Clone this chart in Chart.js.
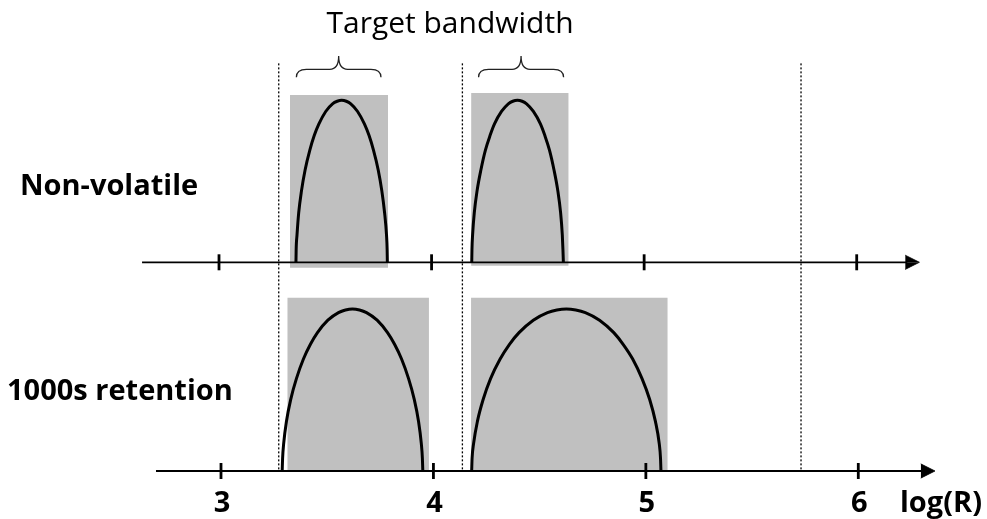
<!DOCTYPE html>
<html>
<head>
<meta charset="utf-8">
<script src="https://cdn.jsdelivr.net/npm/chart.js@4.4.1/dist/chart.umd.min.js"></script>
<style>
  html, body { margin: 0; padding: 0; background: #fff; }
  canvas { display: block; }
</style>
</head>
<body>
<canvas id="c" width="987" height="519"></canvas>
<script>
// log(R) ticks shared by both resistance axes
const tickValues = [3, 4, 5, 6];
const tickLabels = ['3', '4', '5', '6'];
const axisTitle = 'log(R)';
const rowLabels = ['Non-volatile', '1000s retention'];
const headerLabel = 'Target bandwidth';

// normalised distribution height at each sampled log(R) point (same profile for every state)
const stateProfile = [0, 0.079, 0.169, 0.306, 0.441, 0.570, 0.691, 0.782, 0.854, 0.931, 0.978, 0.994, 1,
                      0.994, 0.978, 0.931, 0.854, 0.782, 0.691, 0.570, 0.441, 0.306, 0.169, 0.079, 0];

// non-volatile row: log(R) sample points of the two resistance states
const nvLowState  = [3.362, 3.363, 3.367, 3.375, 3.388, 3.405, 3.427, 3.448, 3.470, 3.502, 3.534, 3.556, 3.577,
                     3.599, 3.620, 3.652, 3.684, 3.706, 3.727, 3.749, 3.766, 3.779, 3.788, 3.791, 3.792];
const nvHighState = [4.189, 4.190, 4.193, 4.201, 4.214, 4.232, 4.253, 4.275, 4.296, 4.329, 4.361, 4.382, 4.404,
                     4.426, 4.447, 4.479, 4.512, 4.533, 4.555, 4.576, 4.594, 4.607, 4.615, 4.618, 4.620];
// 1000s retention row: the same states after drift
const retLowState  = [3.288, 3.290, 3.295, 3.308, 3.328, 3.355, 3.388, 3.421, 3.454, 3.503, 3.553, 3.586, 3.619,
                      3.652, 3.685, 3.735, 3.784, 3.817, 3.850, 3.883, 3.910, 3.930, 3.943, 3.948, 3.950];
const retHighState = [4.180, 4.182, 4.189, 4.207, 4.234, 4.269, 4.314, 4.358, 4.403, 4.470, 4.537, 4.581, 4.626,
                      4.670, 4.715, 4.782, 4.849, 4.893, 4.938, 4.982, 5.018, 5.045, 5.063, 5.069, 5.071];

// shaded spread windows: log(R) extent and height in profile units
const nvWindowFrom  = [3.334, 4.186];
const nvWindowTo    = [3.795, 4.645];
const nvWindowTop   = [1.033, 1.045];
const nvWindowBase  = [-0.033, -0.021];
const retWindowFrom = [3.312, 4.177];
const retWindowTo   = [3.979, 5.103];
const retWindowTop  = [1.07, 1.07];
const retWindowBase = [-0.006, -0.006];

// read thresholds (dotted verticals)
const thresholds = [3.281, 4.145, 5.738];

// target bandwidth braces
const braceFrom = [3.364, 4.221];
const braceTo   = [3.762, 4.621];

// axis extents (arrow tip at the end)
const nvAxisRange  = [2.638, 6.295];
const retAxisRange = [2.694, 6.361];

const ARROW_LEN = 0.067;   // log(R) units
const ARROW_HALF = 0.044;  // profile units
const INK = '#000';
const SHADE = '#c0c0c0';

const datasets = [];

function pts(xs, ys) { return xs.map((x, i) => ({ x, y: ys[i] })); }

// shaded windows
function addWindows(from, to, top, base, xa, ya) {
  from.forEach((f, i) => {
    datasets.push({
      data: [{ x: f, y: top[i] }, { x: to[i], y: top[i] }],
      xAxisID: xa, yAxisID: ya,
      borderColor: 'rgba(0,0,0,0)', borderWidth: 0, pointRadius: 0,
      backgroundColor: SHADE, fill: { value: base[i] }, order: 6
    });
  });
}
addWindows(nvWindowFrom, nvWindowTo, nvWindowTop, nvWindowBase, 'x', 'y');
addWindows(retWindowFrom, retWindowTo, retWindowTop, retWindowBase, 'x2', 'y2');

// dotted thresholds spanning both rows
thresholds.forEach(t => {
  datasets.push({
    data: [{ x: t, y: 1.228 }, { x: t, y: -1.288 }],
    xAxisID: 'x', yAxisID: 'y',
    borderColor: INK, borderWidth: 1.3, borderDash: [2, 2], pointRadius: 0, fill: false, order: 5
  });
});

// axes with arrow heads and ticks
function addAxis(range, xa, ya) {
  const tip = range[1], base = range[1] - ARROW_LEN;
  datasets.push({
    data: [{ x: range[0], y: 0 }, { x: base + 0.01, y: 0 }],
    xAxisID: xa, yAxisID: ya,
    borderColor: INK, borderWidth: 1.8, pointRadius: 0, fill: false, order: 4
  });
  [ARROW_HALF, -ARROW_HALF].forEach(h => {
    datasets.push({
      data: [{ x: base, y: h }, { x: tip, y: 0 }],
      xAxisID: xa, yAxisID: ya,
      borderColor: INK, borderWidth: 0.8, pointRadius: 0,
      backgroundColor: INK, fill: { value: 0 }, order: 4
    });
  });
  datasets.push({
    data: tickValues.map(v => ({ x: v, y: 0 })),
    xAxisID: xa, yAxisID: ya, showLine: false,
    pointStyle: 'line', rotation: 90, pointRadius: 8,
    pointBorderWidth: 2.8, pointBorderColor: INK, order: 3
  });
}
addAxis(nvAxisRange, 'x', 'y');
addAxis(retAxisRange, 'x2', 'y2');

// state distributions
[[nvLowState, 'x', 'y'], [nvHighState, 'x', 'y'], [retLowState, 'x2', 'y2'], [retHighState, 'x2', 'y2']]
  .forEach(([xs, xa, ya]) => {
    datasets.push({
      data: pts(xs, stateProfile),
      xAxisID: xa, yAxisID: ya,
      borderColor: INK, borderWidth: 3, pointRadius: 0,
      cubicInterpolationMode: 'monotone', fill: false, order: 1
    });
  });

const FONT = '"Open Sans", Lato, sans-serif';

const annotate = {
  id: 'annotate',
  afterDatasetsDraw(chart) {
    const { ctx } = chart;
    const x = chart.scales.x, y = chart.scales.y, x2 = chart.scales.x2;
    ctx.save();

    // braces over the target windows
    ctx.strokeStyle = '#222';
    ctx.lineWidth = 1.3;
    const yEnd = y.getPixelForValue(1.142), yTip = y.getPixelForValue(1.2735);
    const yMid = yEnd - 8;
    braceFrom.forEach((f, i) => {
      const a = x.getPixelForValue(f), b = x.getPixelForValue(braceTo[i]);
      const m = (a + b) / 2;
      ctx.beginPath();
      ctx.moveTo(a, yEnd);
      ctx.quadraticCurveTo(a, yMid, a + 10, yMid);
      ctx.lineTo(m - 9, yMid);
      ctx.quadraticCurveTo(m, yMid, m, yTip);
      ctx.quadraticCurveTo(m, yMid, m + 9, yMid);
      ctx.lineTo(b - 10, yMid);
      ctx.quadraticCurveTo(b, yMid, b, yEnd);
      ctx.stroke();
    });

    ctx.fillStyle = INK;
    ctx.textBaseline = 'alphabetic';

    ctx.font = '30px ' + FONT;
    ctx.textAlign = 'center';
    ctx.fillText(headerLabel, 450, 33);

    ctx.font = 'bold 29px ' + FONT;
    ctx.textAlign = 'left';
    ctx.fillText(rowLabels[0], 20, 195);
    ctx.fillText(rowLabels[1], 7, 400);

    ctx.textAlign = 'center';
    tickValues.forEach((v, i) => {
      ctx.fillText(tickLabels[i], x2.getPixelForValue(v) + 1, 512);
    });
    ctx.textAlign = 'left';
    ctx.fillText(axisTitle, 900, 512);
    ctx.restore();
  }
};

new Chart(document.getElementById('c'), {
  type: 'line',
  data: { datasets },
  options: {
    responsive: false,
    animation: false,
    events: [],
    layout: { padding: 0, autoPadding: false },
    plugins: { legend: { display: false }, tooltip: { enabled: false } },
    scales: {
      x:  { type: 'linear', display: false, min: 1.96975, max: 6.61293 },
      x2: { type: 'linear', display: false, min: 1.95966, max: 6.6059 },
      y:  { type: 'linear', display: false, min: -1.5846, max: 1.6191 },
      y2: { type: 'linear', display: false, min: -0.2963, max: 2.9074 }
    }
  },
  plugins: [annotate]
});
</script>
</body>
</html>
